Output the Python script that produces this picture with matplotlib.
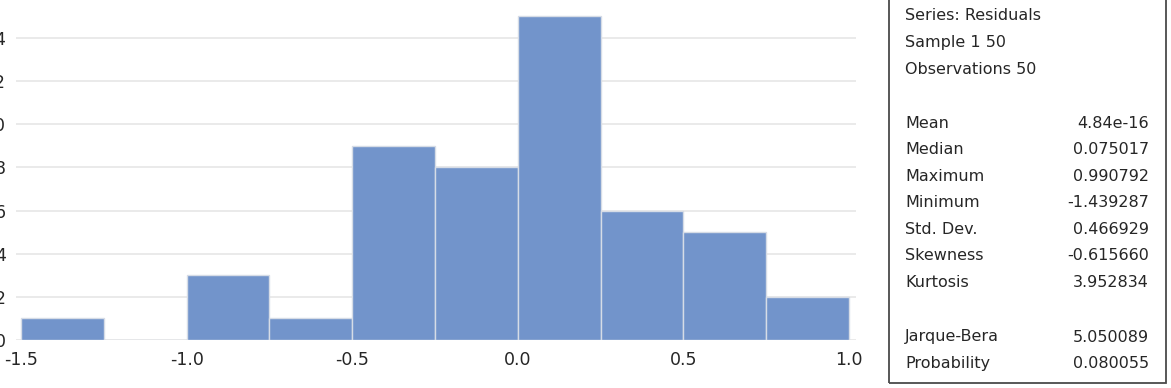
import matplotlib
matplotlib.use("Agg")
import matplotlib.pyplot as plt
from matplotlib.patches import Rectangle

# ---- data ----
bin_left = [-1.5, -1.25, -1.0, -0.75, -0.5, -0.25, 0.0, 0.25, 0.5, 0.75]
bin_width = 0.25
counts = [1, 0, 3, 1, 9, 8, 15, 6, 5, 2]
x_ticks = [-1.5, -1.0, -0.5, 0.0, 0.5, 1.0]
x_tick_labels = ["-1.5", "-1.0", "-0.5", "0.0", "0.5", "1.0"]
y_ticks = [0, 2, 4, 6, 8, 10, 12, 14]

header_lines = ["Series: Residuals", "Sample 1 50", "Observations 50"]
stat_names = ["Mean", "Median", "Maximum", "Minimum", "Std. Dev.", "Skewness", "Kurtosis"]
stat_values = ["4.84e-16", "0.075017", "0.990792", "-1.439287", "0.466929", "-0.615660", "3.952834"]
test_names = ["Jarque-Bera", "Probability"]
test_values = ["5.050089", "0.080055"]

W, H = 1171, 388
fig = plt.figure(figsize=(W / 100, H / 100), dpi=100)
plt.rcParams['font.family'] = ['DejaVu Sans']

def fx(px):
    return px / W

def fy(py):
    return 1 - py / H

ax_left, ax_right, ax_top, ax_bottom = 16, 856, 0, 340
ax = fig.add_axes([fx(ax_left), fy(ax_bottom), fx(ax_right - ax_left), (ax_bottom - ax_top) / H])

ax.bar(bin_left, counts, width=bin_width, align='edge', color='#7294CB',
       edgecolor='#D6DCE6', linewidth=1.0, zorder=3)

ax.set_xlim(-1.5151, 1.0211)
ax.set_ylim(0, 15.76)
ax.set_xticks(x_ticks)
ax.set_xticklabels(x_tick_labels)
ax.set_yticks(y_ticks)
ax.tick_params(axis='both', length=0, labelsize=12.5, colors='#262626')
ax.tick_params(axis='x', pad=8)
ax.tick_params(axis='y', pad=7.5)
ax.yaxis.grid(True, color='#E6E6E6', linewidth=1.2, zorder=0)
ax.xaxis.grid(False)
for s in ax.spines.values():
    s.set_visible(False)

# ---- stats box ----
fig.add_artist(Rectangle((fx(889), fy(383)), fx(1166 - 889), (383 + 3) / H,
                         transform=fig.transFigure, fill=False,
                         edgecolor='#4A4A4A', linewidth=1.3, clip_on=False))

fs = 11.5
lx, rx = 905, 1149
tc = '#262626'
for i, t in enumerate(header_lines):
    fig.text(fx(lx), fy(15 + 27 * i), t, fontsize=fs, ha='left', va='center', color=tc)
for i, (n, v) in enumerate(zip(stat_names, stat_values)):
    y = 123 + 26.6 * i
    fig.text(fx(lx), fy(y), n, fontsize=fs, ha='left', va='center', color=tc)
    fig.text(fx(rx), fy(y), v, fontsize=fs, ha='right', va='center', color=tc)
for i, (n, v) in enumerate(zip(test_names, test_values)):
    y = 337 + 26.5 * i
    fig.text(fx(lx), fy(y), n, fontsize=fs, ha='left', va='center', color=tc)
    fig.text(fx(rx), fy(y), v, fontsize=fs, ha='right', va='center', color=tc)

fig.savefig("out.png", dpi=100)
